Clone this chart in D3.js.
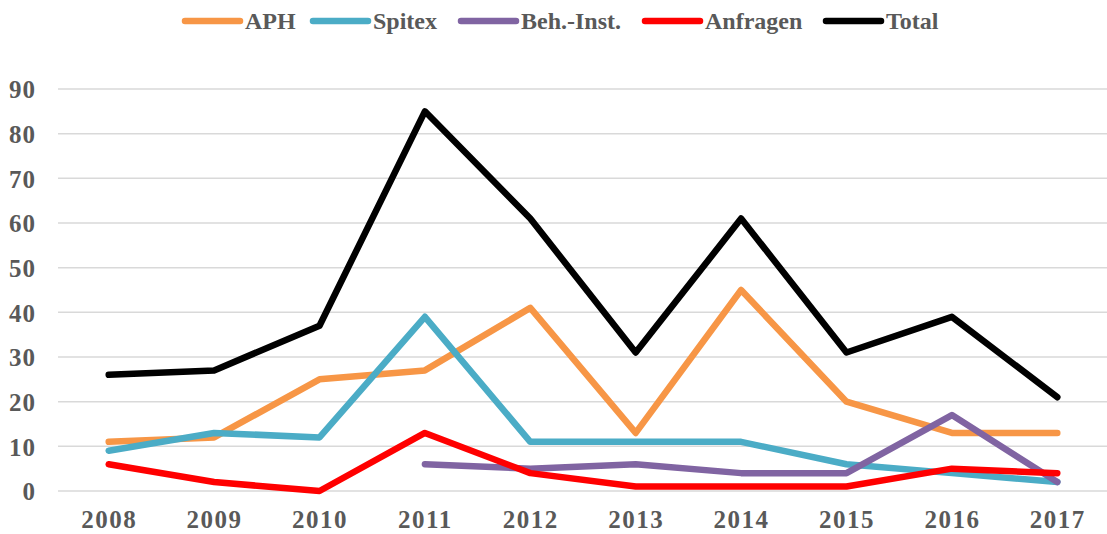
<!DOCTYPE html>
<html>
<head>
<meta charset="utf-8">
<script src="https://cdn.jsdelivr.net/npm/d3@7"></script>
<style>
  body { margin: 0; background: #fff; }
  svg text { font-family: "Liberation Serif", serif; font-weight: bold; fill: #595959; }
</style>
</head>
<body>
<div id="chart"></div>
<script>
// chart data
const years = ["2008", "2009", "2010", "2011", "2012", "2013", "2014", "2015", "2016", "2017"];
const aph      = [11, 12, 25, 27, 41, 13, 45, 20, 13, 13];
const spitex   = [9, 13, 12, 39, 11, 11, 11, 6, 4, 2];
const behInst  = [null, null, null, 6, 5, 6, 4, 4, 17, 2];
const anfragen = [6, 2, 0, 13, 4, 1, 1, 1, 5, 4];
const total    = [26, 27, 37, 85, 61, 31, 61, 31, 39, 21];
const yTicks = [0, 10, 20, 30, 40, 50, 60, 70, 80, 90];

const series = [
    { name: "APH", values: aph, color: "#F79646" },
    { name: "Spitex", values: spitex, color: "#4BACC6" },
    { name: "Beh.-Inst.", values: behInst, color: "#8064A2" },
    { name: "Anfragen", values: anfragen, color: "#FF0000" },
    { name: "Total", values: total, color: "#000000" }
];

const width = 1107, height = 534;

const svg = d3.select("#chart")
    .append("svg")
    .attr("width", width)
    .attr("height", height);

// scales
const xScale = d3.scalePoint()
    .domain(years)
    .range([56, 1110])
    .padding(0.5);

const yScale = d3.scaleLinear()
    .domain([0, 90])
    .range([491, 89]);

// gridlines
svg.append("g")
    .selectAll("line")
    .data(yTicks)
    .enter()
    .append("line")
    .attr("x1", 58)
    .attr("x2", 1107)
    .attr("y1", d => yScale(d))
    .attr("y2", d => yScale(d))
    .style("stroke", "#d9d9d9")
    .style("stroke-width", 1.5);

// y axis labels
const yAxis = svg.append("g")
    .attr("transform", "translate(44,0)")
    .call(d3.axisLeft(yScale).tickValues(yTicks).tickSize(0).tickPadding(8));
yAxis.select(".domain").remove();
yAxis.selectAll("text")
    .style("font-size", "25px")
    .style("font-family", "Liberation Serif, serif")
    .style("letter-spacing", "1px")
    .attr("dy", "0.35em");

// x axis labels
const xAxis = svg.append("g")
    .attr("transform", "translate(0,508)")
    .call(d3.axisBottom(xScale).tickSize(0).tickPadding(0));
xAxis.select(".domain").remove();
xAxis.selectAll("text")
    .style("font-size", "25px")
    .style("font-family", "Liberation Serif, serif")
    .style("letter-spacing", "1.5px")
    .attr("dy", "0.8em");

// lines
const line = d3.line()
    .defined(d => d !== null)
    .x((d, i) => xScale(years[i]))
    .y(d => yScale(d));

svg.append("g")
    .selectAll("path")
    .data(series)
    .enter()
    .append("path")
    .attr("d", d => line(d.values))
    .style("fill", "none")
    .style("stroke", d => d.color)
    .style("stroke-width", 6.5)
    .style("stroke-linecap", "round")
    .style("stroke-linejoin", "round");

// legend
const legendX = [185, 313, 461, 645, 826];
const legend = svg.append("g");
series.forEach((s, i) => {
    const g = legend.append("g").attr("transform", `translate(${legendX[i]},21)`);
    g.append("line")
        .attr("x1", 0).attr("x2", 55)
        .attr("y1", 0).attr("y2", 0)
        .style("stroke", s.color)
        .style("stroke-width", 6.5)
        .style("stroke-linecap", "round");
    g.append("text")
        .attr("x", 60)
        .attr("y", 8)
        .style("font-size", "24px")
        .text(s.name);
});
</script>
</body>
</html>
